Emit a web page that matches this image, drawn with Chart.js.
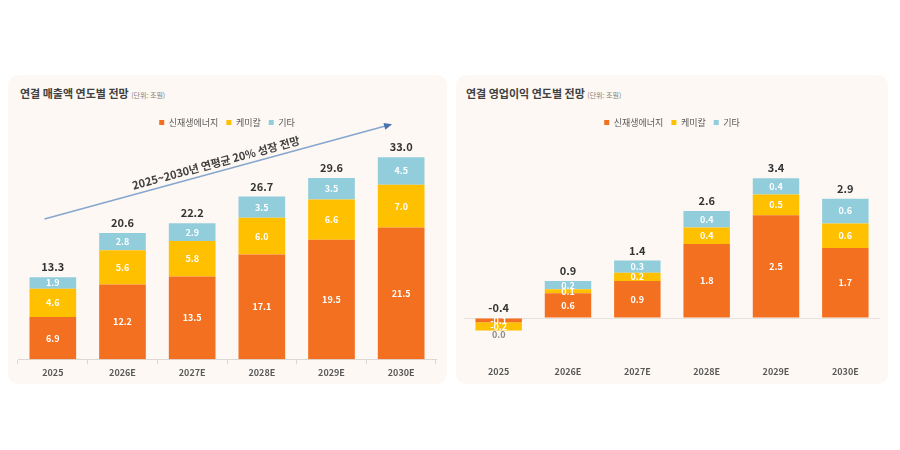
<!DOCTYPE html>
<html>
<head>
<meta charset="utf-8">
<script src="https://cdn.jsdelivr.net/npm/chart.js@4.4.1/dist/chart.umd.min.js"></script>
<style>
  body { margin: 0; width: 900px; height: 450px; background: #ffffff; position: relative; overflow: hidden;
         font-family: "Noto Sans CJK KR", "Noto Sans", sans-serif; }
  .panel { position: absolute; top: 75px; height: 309px; background: #fdf8f3; border-radius: 10px; }
  .panel canvas { position: absolute; left: 0; top: 0; }
  .ttl { position: absolute; top: 10px; font-size: 11px; font-weight: 700; color: #404040; white-space: nowrap; }
  .ttl small { font-size: 7px; font-weight: 400; color: #808080; }
</style>
</head>
<body>

<div class="panel" id="p1" style="left:8px; width:439px;">
  <div class="ttl" style="left:12px;">연결 매출액 연도별 전망 <small>(단위: 조원)</small></div>
  <canvas id="myChart_rev" width="439" height="309"></canvas>
</div>

<div class="panel" id="p2" style="left:456px; width:432px;">
  <div class="ttl" style="left:10px;">연결 영업이익 연도별 전망 <small>(단위: 조원)</small></div>
  <canvas id="myChart_op" width="432" height="309"></canvas>
</div>

<script>
  "use strict";

  const years = ['2025', '2026E', '2027E', '2028E', '2029E', '2030E'];
  const seriesNames = ['신재생에너지', '케미칼', '기타'];

  // 매출액 (조원)
  const revRenew = [6.9, 12.2, 13.5, 17.1, 19.5, 21.5];
  const revChem = [4.6, 5.6, 5.8, 6.0, 6.6, 7.0];
  const revOther = [1.9, 2.8, 2.9, 3.5, 3.5, 4.5];
  const revTotal = [13.3, 20.6, 22.2, 26.7, 29.6, 33.0];

  // 영업이익 (조원)
  const opRenew = [-0.1, 0.6, 0.9, 1.8, 2.5, 1.7];
  const opChem = [-0.2, 0.1, 0.2, 0.4, 0.5, 0.6];
  const opOther = [0.0, 0.2, 0.3, 0.4, 0.4, 0.6];
  const opTotal = [-0.4, 0.9, 1.4, 2.6, 3.4, 2.9];

  // growth arrow, in chart values (x = category index, y = 조원)
  const arrowFrom = [-0.12, 22.9];
  const arrowTo = [4.87, 38.4];
  const arrowText = '2025~2030년 연평균 20% 성장 전망';

  const colors = ['#f37021', '#ffc000', '#92cddc'];
  const FONT = '"Noto Sans CJK KR", "Noto Sans", sans-serif';

  // labels inside segments + totals on top
  const barLabels = {
    id: 'barLabels',
    afterDatasetsDraw(chart, args, opts) {
      const ctx = chart.ctx;
      const yScale = chart.scales.y;
      ctx.save();
      ctx.textAlign = 'center';
      ctx.textBaseline = 'middle';
      ctx.font = 'bold 9px ' + FONT;
      chart.data.datasets.forEach((ds, i) => {
        const meta = chart.getDatasetMeta(i);
        meta.data.forEach((bar, j) => {
          const p = bar.getProps(['x', 'y', 'base'], true);
          const v = ds.data[j];
          ctx.fillStyle = v === 0 ? '#8a8a8a' : '#ffffff';
          let cy = (p.y + p.base) / 2;
          if (v === 0) cy = p.y + 4;
          ctx.fillText(v.toFixed(1), p.x, cy);
        });
      });
      // totals
      ctx.font = 'bold 11px ' + FONT;
      ctx.fillStyle = '#333333';
      opts.totals.forEach((t, j) => {
        let top = yScale.getPixelForValue(0);
        let x = 0;
        chart.data.datasets.forEach((ds, i) => {
          const bar = chart.getDatasetMeta(i).data[j];
          x = bar.x;
          if (ds.data[j] > 0) top = Math.min(top, bar.y);
        });
        ctx.fillText(t.toFixed(1), x, top - 10);
      });
      ctx.restore();
    }
  };

  const growthArrow = {
    id: 'growthArrow',
    afterDraw(chart) {
      const ctx = chart.ctx;
      const xs = chart.scales.x, ys = chart.scales.y;
      const x0 = xs.getPixelForValue(arrowFrom[0]), y0 = ys.getPixelForValue(arrowFrom[1]);
      const x1 = xs.getPixelForValue(arrowTo[0]), y1 = ys.getPixelForValue(arrowTo[1]);
      const ang = Math.atan2(y1 - y0, x1 - x0);
      ctx.save();
      ctx.strokeStyle = '#86a6cf';
      ctx.lineWidth = 1.5;
      ctx.beginPath();
      ctx.moveTo(x0, y0);
      ctx.lineTo(x1 - 6 * Math.cos(ang), y1 - 6 * Math.sin(ang));
      ctx.stroke();
      // head
      ctx.translate(x1, y1);
      ctx.rotate(ang);
      ctx.fillStyle = '#4a72b0';
      ctx.beginPath();
      ctx.moveTo(0, 0);
      ctx.lineTo(-8, -3.5);
      ctx.lineTo(-8, 3.5);
      ctx.closePath();
      ctx.fill();
      ctx.restore();
      // text
      ctx.save();
      const mx = (x0 + x1) / 2, my = (y0 + y1) / 2;
      ctx.translate(mx, my);
      ctx.rotate(ang);
      ctx.font = 'bold 11px ' + FONT;
      ctx.fillStyle = '#404040';
      ctx.textAlign = 'center';
      ctx.textBaseline = 'middle';
      ctx.fillText(arrowText, 0, -9);
      ctx.restore();
    }
  };

  function makeDatasets(a, b, c) {
    return [a, b, c].map((d, i) => ({
      label: seriesNames[i],
      data: d,
      backgroundColor: colors[i],
      borderWidth: 0,
      categoryPercentage: 1,
      barPercentage: 0.67
    }));
  }

  function makeConfig(datasets, totals, yMin, yMax, padding, zeroLine, extra) {
    return {
      type: 'bar',
      data: { labels: years, datasets: datasets },
      options: {
        responsive: false,
        animation: false,
        layout: { padding: padding },
        scales: {
          x: {
            stacked: true,
            border: { display: !zeroLine, color: '#dcd7d2' },
            grid: { display: !zeroLine, drawOnChartArea: false, tickLength: 5, color: '#dcd7d2' },
            ticks: { color: '#595959', font: { family: FONT, size: 9, weight: 'bold' }, padding: zeroLine ? 2 : 3 }
          },
          y: {
            stacked: true,
            min: yMin,
            max: yMax,
            display: zeroLine,
            border: { display: false },
            ticks: { display: false },
            grid: {
              drawTicks: false,
              color: (c) => (c.tick && c.tick.value === 0 ? '#e6e1dc' : 'rgba(0,0,0,0)')
            }
          }
        },
        plugins: {
          legend: {
            position: 'top',
            labels: {
              boxWidth: 5, boxHeight: 5, padding: 8, color: '#595959',
              font: { family: FONT, size: 9 }
            }
          },
          tooltip: { enabled: false },
          barLabels: { totals: totals }
        }
      },
      plugins: [barLabels].concat(extra)
    };
  }

  const config_rev = makeConfig(makeDatasets(revRenew, revChem, revOther), revTotal, 0, 36.3,
    { left: 10, right: 11, top: 35, bottom: 3 }, false, [growthArrow]);
  const config_op = makeConfig(makeDatasets(opRenew, opChem, opOther), opTotal, -1, 4.4,
    { left: 8, right: 8, top: 35, bottom: 5 }, true, []);

  const myChart_rev = new Chart(document.getElementById('myChart_rev'), config_rev);
  const myChart_op = new Chart(document.getElementById('myChart_op'), config_op);
</script>
</body>
</html>
